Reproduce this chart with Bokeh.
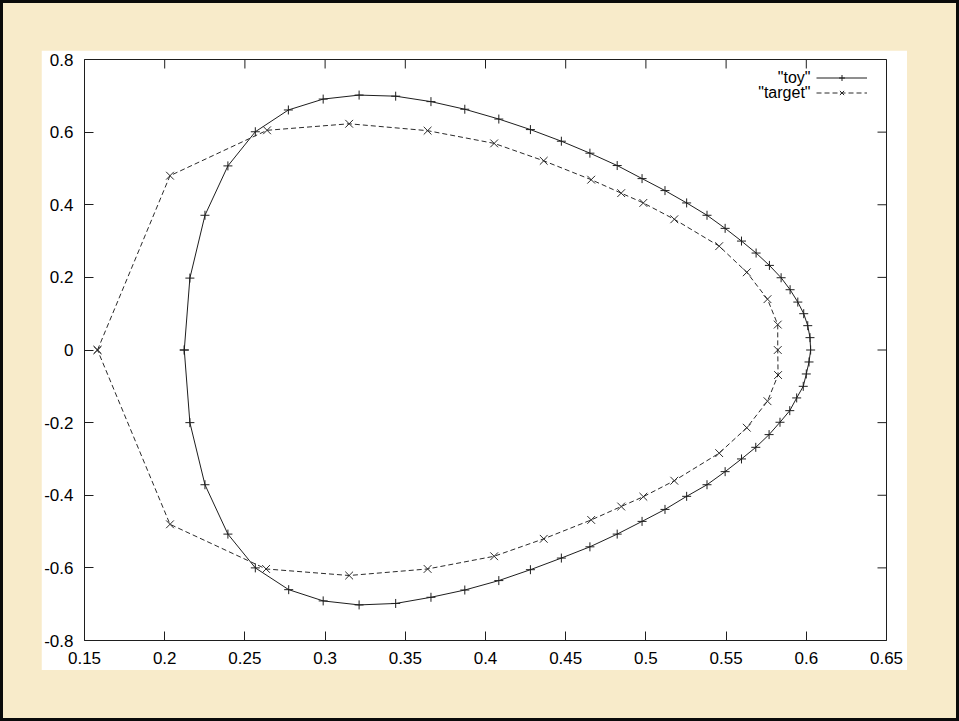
import math
from bokeh.plotting import figure
from bokeh.models import FixedTicker, Legend, LegendItem, Label, Range1d
from bokeh.layouts import column
from bokeh.embed import file_html
from bokeh.resources import INLINE

# ---- data ----
x_ticks = [0.15, 0.2, 0.25, 0.3, 0.35, 0.4, 0.45, 0.5, 0.55, 0.6, 0.65]
x_tick_labels = ["0.15", "0.2", "0.25", "0.3", "0.35", "0.4", "0.45", "0.5", "0.55", "0.6", "0.65"]
y_ticks = [-0.8, -0.6, -0.4, -0.2, 0.0, 0.2, 0.4, 0.6, 0.8]
y_tick_labels = ["-0.8", "-0.6", "-0.4", "-0.2", "0", "0.2", "0.4", "0.6", "0.8"]

series_names = ['"toy"', '"target"']

toy_x = [0.2122, 0.2157, 0.2251, 0.2394, 0.2565, 0.2771, 0.2988, 0.3212, 0.3440, 0.3660,
         0.3871, 0.4083, 0.4280, 0.4473, 0.4651, 0.4821, 0.4976, 0.5119, 0.5254, 0.5381,
         0.5494, 0.5596, 0.5687, 0.5770, 0.5843, 0.5899, 0.5947, 0.5984, 0.6009, 0.6023,
         0.6027,
         0.6017, 0.6000, 0.5981, 0.5940, 0.5897, 0.5836, 0.5768, 0.5685, 0.5596, 0.5494,
         0.5381, 0.5254, 0.5119, 0.4976, 0.4821, 0.4651, 0.4473, 0.4280, 0.4083, 0.3871,
         0.3660, 0.3440, 0.3212, 0.2988, 0.2773, 0.2565, 0.2394, 0.2251, 0.2157, 0.2122]
toy_y = [0.0, 0.198, 0.371, 0.507, 0.601, 0.661, 0.691, 0.702, 0.699, 0.684,
         0.663, 0.636, 0.607, 0.575, 0.542, 0.508, 0.472, 0.439, 0.405, 0.371,
         0.335, 0.300, 0.267, 0.233, 0.199, 0.166, 0.132, 0.100, 0.067, 0.034,
         0.0,
         -0.033, -0.066, -0.100, -0.132, -0.167, -0.199, -0.233, -0.268, -0.300, -0.335,
         -0.371, -0.403, -0.439, -0.472, -0.507, -0.542, -0.573, -0.605, -0.635, -0.661,
         -0.681, -0.698, -0.702, -0.691, -0.660, -0.600, -0.507, -0.371, -0.200, 0.0]

target_x = [0.1581, 0.2033, 0.2638, 0.3150, 0.3639, 0.4054, 0.4363, 0.4659, 0.4846, 0.4984,
            0.5177, 0.5457, 0.5629, 0.5758, 0.5822, 0.5822,
            0.5824, 0.5758, 0.5629, 0.5457, 0.5177, 0.4984, 0.4846, 0.4659, 0.4363, 0.4054,
            0.3639, 0.3150, 0.2632, 0.2033, 0.1581]
target_y = [0.0, 0.480, 0.605, 0.623, 0.604, 0.569, 0.521, 0.469, 0.432, 0.405,
            0.360, 0.286, 0.214, 0.140, 0.070, 0.0,
            -0.069, -0.141, -0.214, -0.284, -0.360, -0.404, -0.431, -0.468, -0.520, -0.568,
            -0.603, -0.621, -0.603, -0.480, 0.0]

FONT = "Liberation Sans"
INK = "#1e1e1e"

p = figure(width=866, height=620,
           x_range=Range1d(min(x_ticks), max(x_ticks)), y_range=Range1d(min(y_ticks), max(y_ticks)),
           output_backend="svg", toolbar_location=None,
           min_border_left=41, min_border_right=21, min_border_top=9, min_border_bottom=30)
p.background_fill_color = "white"
p.border_fill_color = "white"
p.outline_line_color = INK
p.outline_line_width = 1
p.grid.visible = False

for ax in p.xaxis:
    ax.ticker = FixedTicker(ticks=x_ticks)
    ax.major_label_overrides = {v: s for v, s in zip(x_ticks, x_tick_labels)}
for ax in p.yaxis:
    ax.ticker = FixedTicker(ticks=y_ticks)
    ax.major_label_overrides = {v: s for v, s in zip(y_ticks, y_tick_labels)}

for ax in p.axis:
    ax.axis_line_color = None
    ax.major_tick_in = 9
    ax.major_tick_out = 0
    ax.major_tick_line_color = INK
    ax.major_tick_line_width = 1
    ax.minor_tick_line_color = None
    ax.major_label_text_font = FONT
    ax.major_label_text_font_size = "17px"
    ax.major_label_text_color = "black"
    ax.major_label_standoff = 11

# mirrored inward ticks on the top and right borders (half of each dash is clipped by the frame)
p.scatter(x_ticks, [max(y_ticks)] * len(x_ticks), marker="dash", angle=math.pi / 2,
          size=18, line_color=INK, line_width=1)
p.scatter([max(x_ticks)] * len(y_ticks), y_ticks, marker="dash", angle=0,
          size=18, line_color=INK, line_width=1)

toy_line = p.line(toy_x, toy_y, line_color=INK, line_width=1)
toy_pts = p.scatter(toy_x, toy_y, marker="cross", size=9, line_color=INK, line_width=1)
tgt_line = p.line(target_x, target_y, line_color="#2a2a2a", line_width=1, line_dash="5 3")
tgt_pts = p.scatter(target_x, target_y, marker="x", size=11, line_color="#2a2a2a", line_width=1)

legend = Legend(items=[LegendItem(label=" ", renderers=[toy_line, toy_pts]),
                       LegendItem(label=" ", renderers=[tgt_line, tgt_pts])],
                location="top_right", margin=11, padding=0, spacing=0,
                glyph_width=51, glyph_height=15, label_height=15, label_width=8,
                label_standoff=0, label_text_font_size="16px",
                border_line_color=None, background_fill_alpha=0)
p.add_layout(legend)

for i, name in enumerate(series_names):
    p.add_layout(Label(x=726, y=563 - 15 * i, x_units="screen", y_units="screen",
                       text=name, text_align="right", text_baseline="middle",
                       text_font=FONT, text_font_size="16px", text_color="black"))

outer = column(p, styles={"background-color": "#F8EBCA",
                          "border": "3px solid #0a0a0a",
                          "padding": "47px 49px 48px 38px"})

open("out.html", "w").write(file_html(outer, INLINE))
